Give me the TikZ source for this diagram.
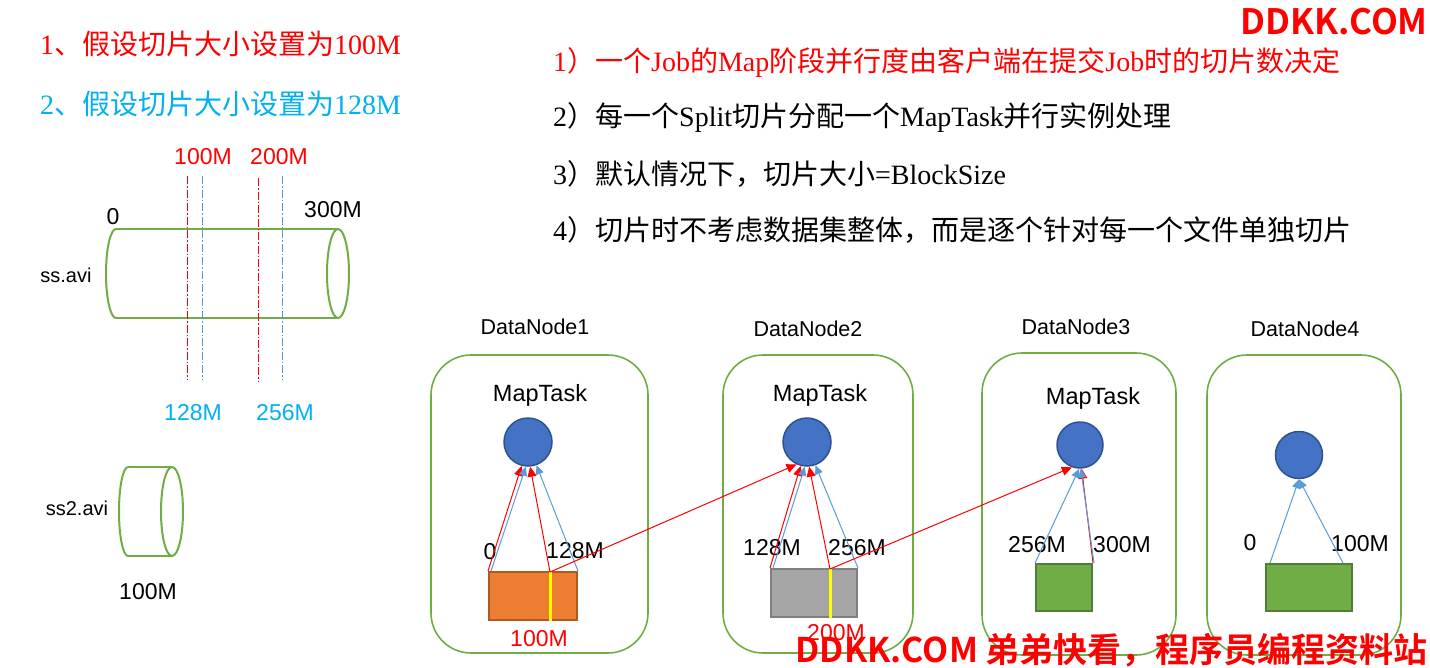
\documentclass[tikz,border=0pt]{standalone}
\usepackage{fontspec}
\setmainfont{Liberation Serif}
\setsansfont{Liberation Sans}
\newfontfamily\cjk{Noto Sans CJK SC}[BoldFont={Noto Sans CJK SC Bold}]
\usetikzlibrary{arrows.meta}
\definecolor{redtxt}{HTML}{FF0000}
\definecolor{cyantxt}{HTML}{00B0F0}
\definecolor{nodegreen}{HTML}{70AD47}
\definecolor{greenedge}{HTML}{507E32}
\definecolor{taskblue}{HTML}{4472C4}
\definecolor{taskedge}{HTML}{2F528F}
\definecolor{lineblue}{HTML}{5B9BD5}
\definecolor{blkorange}{HTML}{ED7D31}
\definecolor{orangeedge}{HTML}{AE5A21}
\definecolor{blkgray}{HTML}{A5A5A5}
\definecolor{grayedge}{HTML}{7F7F7F}
\definecolor{splityellow}{HTML}{FFFF00}
\newcommand\zh[1]{{\cjk #1}}
\tikzset{
  dnbox/.style={draw=nodegreen, line width=1.6pt, rounded corners=40pt, inner sep=0},
  maptask/.style={circle, fill=taskblue, draw=taskedge, line width=1.5pt, minimum size=48pt, inner sep=0},
  blk/.style={line width=2pt, inner sep=0},
  lab/.style={font=\sffamily\fontsize{23}{25}\selectfont, inner sep=0},
  tasklab/.style={font=\sffamily\fontsize{23.5}{26}\selectfont, inner sep=0},
  dnlab/.style={font=\sffamily\fontsize{21.5}{24}\selectfont, inner sep=0},
  filelab/.style={font=\sffamily\fontsize{20}{22}\selectfont, inner sep=0},
  bigtxt/.style={font=\fontsize{28}{32}\selectfont, anchor=west, inner sep=0},
  wm/.style={text=redtxt, font=\cjk\bfseries\fontsize{34}{38}\selectfont, inner sep=0},
  splitarr/.style={draw=redtxt, line width=1pt, -{Triangle[length=10pt,width=9pt]}},
  blockarr/.style={draw=lineblue, line width=1pt, -{Triangle[length=9pt,width=8pt]}},
  cutred/.style={draw=redtxt, line width=1pt, dash pattern=on 8pt off 2pt on 1.5pt off 2pt},
  cutblue/.style={draw=lineblue, line width=1pt, dash pattern=on 8pt off 2pt on 1.5pt off 2pt},
  yellowline/.style={draw=splityellow, line width=3pt},
  cyl/.style={draw=nodegreen, line width=2pt},
}
\begin{document}
\begin{tikzpicture}[x=1pt,y=-1pt]
  \useasboundingbox (0,0) rectangle (1430,667);
  \fill[white] (0,0) rectangle (1430,667);

  % split size notes
  \node[bigtxt, text=redtxt] (set1) at (40,44) {1\zh{、假设切片大小设置为}100M};
  \node[bigtxt, text=cyantxt] (set2) at (40,104) {2\zh{、假设切片大小设置为}128M};

  \node[bigtxt, text=redtxt] (rule1) at (553,62) {1\zh{）一个}Job\zh{的}Map\zh{阶段并行度由客户端在提交}Job\zh{时的切片数决定}};
  \node[bigtxt] (rule2) at (553,117) {2\zh{）每一个}Split\zh{切片分配一个}MapTask\zh{并行实例处理}};
  \node[bigtxt] (rule3) at (553,174) {3\zh{）默认情况下，切片大小}=BlockSize};
  \node[bigtxt] (rule4) at (553,230) {4\zh{）切片时不考虑数据集整体，而是逐个针对每一个文件单独切片}};

  % ss.avi
  \draw[cyl] (116,229) -- (338,229);
  \draw[cyl] (116,318) -- (338,318);
  \draw[cyl] (116,229) arc[start angle=90, end angle=270, x radius=10pt, y radius=44.5pt];
  \draw[cyl] (338,273.5) ellipse[x radius=11pt, y radius=44.5pt];
  \draw[cutred] (187,176) -- (187,379);
  \draw[cutblue] (202,176) -- (202,379);
  \draw[cutred] (258,178) -- (258,381);
  \draw[cutblue] (282,176) -- (282,379);
  \node[lab] (f0) at (113,217) {0};
  \node[lab] (f300) at (333,210) {300M};
  \node[filelab] (ss) at (66,275) {ss.avi};
  \node[lab, text=redtxt] (c100) at (203,157) {100M};
  \node[lab, text=redtxt] (c200) at (279,157) {200M};
  \node[lab, text=cyantxt] (c128) at (193,413) {128M};
  \node[lab, text=cyantxt] (c256) at (285,413) {256M};

  % ss2.avi
  \draw[cyl] (128,467) -- (172,467);
  \draw[cyl] (128,556) -- (172,556);
  \draw[cyl] (128,467) arc[start angle=90, end angle=270, x radius=9pt, y radius=44.5pt];
  \draw[cyl] (172,511.5) ellipse[x radius=11pt, y radius=44.5pt];
  \node[filelab] (ss2) at (77,508) {ss2.avi};
  \node[lab] (g100) at (148,592) {100M};

  % DataNode1
  \node[dnbox, minimum width=217pt, minimum height=298pt] (dn1) at (539.5,504) {};
  \node[dnlab] (dl1) at (535,327) {DataNode1};
  \node[tasklab] (mt1) at (540,395) {MapTask};
  \node[maptask] (m1) at (528,442) {};
  \node[blk, fill=blkorange, draw=orangeedge, minimum width=88pt, minimum height=48pt] (r1) at (533,596) {};
  \coordinate (s1) at (550,572);
  \draw[yellowline] (s1) -- (s1 |- r1.south);
  \node[lab] (a1) at (490,552) {0};
  \node[lab] (b1) at (575,551) {128M};
  \node[lab, text=redtxt] (e1) at (539,639) {100M};

  % DataNode2
  \node[dnbox, minimum width=190pt, minimum height=298pt] (dn2) at (818,504) {};
  \node[dnlab] (dl2) at (808,329) {DataNode2};
  \node[tasklab] (mt2) at (820,395) {MapTask};
  \node[maptask] (m2) at (807,442) {};
  \node[blk, fill=blkgray, draw=grayedge, minimum width=86pt, minimum height=48pt] (r2) at (814,593) {};
  \coordinate (s2) at (830,569);
  \draw[yellowline] (s2) -- (s2 |- r2.south);
  \node[lab] (a2) at (772,548) {128M};
  \node[lab] (b2) at (857,548) {256M};
  \node[lab, text=redtxt] (e2) at (836,633) {200M};

  % DataNode3
  \node[dnbox, minimum width=194pt, minimum height=302pt] (dn3) at (1079,504) {};
  \node[dnlab] (dl3) at (1076,327) {DataNode3};
  \node[tasklab] (mt3) at (1093,398) {MapTask};
  \node[maptask, minimum size=46pt] (m3) at (1080,445) {};
  \node[blk, fill=nodegreen, draw=greenedge, minimum width=56pt, minimum height=47pt] (r3) at (1064,587.5) {};
  \node[lab] (a3) at (1037,545) {256M};
  \node[lab] (b3) at (1122,545) {300M};

  % DataNode4
  \node[dnbox, minimum width=194pt, minimum height=300pt] (dn4) at (1304,505) {};
  \node[dnlab] (dl4) at (1305,329) {DataNode4};
  \node[maptask, minimum size=47pt] (m4) at (1299,455) {};
  \node[blk, fill=nodegreen, draw=greenedge, minimum width=86pt, minimum height=47pt] (r4) at (1309,587.5) {};
  \node[lab] (a4) at (1250,543) {0};
  \node[lab] (b4) at (1360,544) {100M};

  % splits to map tasks
  \draw[splitarr] (r1.north west) -- (m1.-105);
  \draw[blockarr] ([xshift=3pt]r1.north west) -- (m1.-95);
  \draw[splitarr] (s1) -- (m1.-85);
  \draw[blockarr] (r1.north east) -- (m1.-70);
  \draw[splitarr] (s1) -- (m2.-115);

  \draw[splitarr] (r2.north west) -- (m2.-105);
  \draw[blockarr] ([xshift=3pt]r2.north west) -- (m2.-95);
  \draw[splitarr] (s2) -- (m2.-85);
  \draw[blockarr] (r2.north east) -- (m2.-70);
  \draw[splitarr] (s2) -- (m3.-110);

  \draw[blockarr] (r3.north west) -- (m3.-92);
  \draw[splitarr] (r3.north east) -- (m3.-86);
  \draw[blockarr] ([xshift=1pt]r3.north east) -- (m3.-88);

  \draw[blockarr] ([xshift=5pt]r4.north west) -- (m4.south);
  \draw[blockarr] ([xshift=-10pt]r4.north east) -- (m4.south);

  % watermark
  \node[wm, font=\cjk\bfseries\fontsize{35}{38}\selectfont, anchor=east] (wm1) at (1428,22) {DDKK.COM};
  \node[wm, anchor=east] (wm2) at (1428,650) {DDKK.COM 弟弟快看，程序员编程资料站};
\end{tikzpicture}
\end{document}
